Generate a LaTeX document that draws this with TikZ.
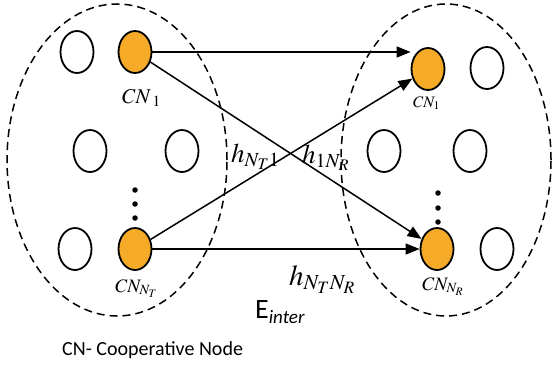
\documentclass[tikz,border=0pt]{standalone}
\usepackage{mathptmx}
\usepackage{fontspec}
\setmainfont{Liberation Serif}
\newfontfamily\calib{Carlito}
\usetikzlibrary{shapes.geometric,arrows.meta}
\definecolor{cnorange}{RGB}{245,170,40}
\begin{document}
\begin{tikzpicture}[x=1pt,y=-1pt,
 nd/.style={ellipse, draw=black, line width=1.8pt, minimum width=33pt, minimum height=42pt, inner sep=0pt},
 cn/.style={nd, fill=cnorange},
 grp/.style={draw=black, line width=1.5pt, dash pattern=on 8pt off 5pt},
 arr/.style={draw=black, line width=1.5pt, -{Triangle[length=14pt,width=11pt]}},
 lbl/.style={anchor=base west, inner sep=0pt},
 vdot/.style={circle, fill=black, inner sep=0pt, minimum size=5.5pt}]
\useasboundingbox (0,0) rectangle (553,364);
% groups
\draw[grp] (117,160) ellipse [x radius=110pt, y radius=156pt];
\draw[grp] (446,160) ellipse [x radius=105pt, y radius=156pt];
% left group
\node[nd] (L1) at (77,52) {};
\node[cn] (C1) at (135,52) {};
\node[nd] (L2) at (90,151) {};
\node[nd] (L3) at (182,151) {};
\node[nd] (L4) at (75,249) {};
\node[cn] (CT) at (135,249) {};
\node[vdot] (ld1) at (135,190) {};
\node[vdot] (ld2) at (135,204) {};
\node[vdot] (ld3) at (135,218) {};
% right group
\node[cn] (R1) at (428,69) {};
\node[nd] (R2) at (487,68) {};
\node[nd] (R3) at (384,151) {};
\node[nd] (R4) at (470,151) {};
\node[cn] (CR) at (437,249) {};
\node[nd] (R5) at (497,249) {};
\node[vdot] (rd1) at (438,193) {};
\node[vdot] (rd2) at (438,208) {};
\node[vdot] (rd3) at (438,222) {};
% links
\draw[arr] (C1.east) -- (C1.east -| R1.west);
\draw[arr] (C1) -- (CR);
\draw[arr] (CT) -- (R1);
\draw[arr] (CT.east) -- (CR.west);
% labels
\node[lbl] (lc1) at (122,103) {\fontsize{21}{24}\selectfont $CN_{\;1}$};
\node[lbl] (lct) at (115,292) {\fontsize{19}{22}\selectfont $CN_{N_T}$};
\node[lbl] (lr1) at (413,107) {\fontsize{16}{19}\selectfont $CN_1$};
\node[lbl] (lcr) at (422,290) {\fontsize{19}{22}\selectfont $CN_{N_R}$};
\node[lbl] (h1) at (231,162) {\fontsize{27}{30}\selectfont $h_{N_T1}$};
\node[lbl] (h2) at (302,163) {\fontsize{27}{30}\selectfont $h_{1N_R}$};
\node[lbl] (h3) at (289,285) {\fontsize{29}{32}\selectfont $h_{N_TN_R}$};
\node[lbl] (ei) at (255,318) {\calib\fontsize{28}{32}\selectfont E\raisebox{-5pt}{\fontsize{19}{22}\selectfont\itshape inter}};
\node[lbl] (leg) at (62,355) {\calib\fontsize{20}{24}\selectfont CN- Cooperative Node};
\end{tikzpicture}
\end{document}
